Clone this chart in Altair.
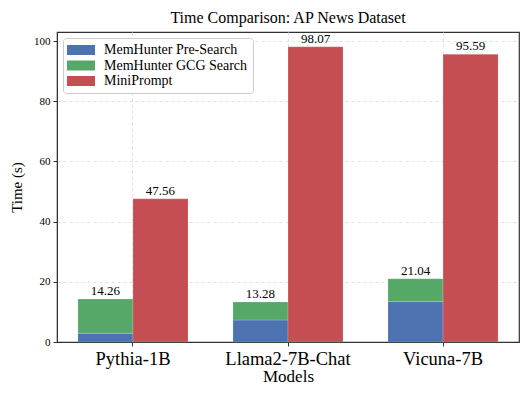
import altair as alt
import pandas as pd

models = ["Pythia-1B", "Llama2-7B-Chat", "Vicuna-7B"]
pre_search = [2.9, 7.3, 13.4]
memhunter_total = [14.26, 13.28, 21.04]
miniprompt = [47.56, 98.07, 95.59]
gcg_search = [round(t - p, 2) for t, p in zip(memhunter_total, pre_search)]

series = ["MemHunter Pre-Search", "MemHunter GCG Search", "MiniPrompt"]
colors = ["#4C72B0", "#55A868", "#C44E52"]

rows = []
for i, m in enumerate(models):
    rows.append({"model": m, "group": "A", "series": series[0], "value": pre_search[i], "ord": 0})
    rows.append({"model": m, "group": "A", "series": series[1], "value": gcg_search[i], "ord": 1})
    rows.append({"model": m, "group": "B", "series": series[2], "value": miniprompt[i], "ord": 2})
df = pd.DataFrame(rows)

tot = []
for i, m in enumerate(models):
    tot.append({"model": m, "group": "A", "total": memhunter_total[i], "label": f"{memhunter_total[i]:.2f}"})
    tot.append({"model": m, "group": "B", "total": miniprompt[i], "label": f"{miniprompt[i]:.2f}"})
tdf = pd.DataFrame(tot)

FONT = "Times New Roman, Liberation Serif, Times, serif"

xenc = alt.X("model:N", sort=models, title="Models",
             scale=alt.Scale(paddingInner=0.29, paddingOuter=0.135),
             axis=alt.Axis(labelAngle=0, labelFontSize=18.5, titleFontSize=17,
                           bandPosition=0.5, grid=True, gridDash=[3, 3],
                           gridColor="#e0e0e0", tickSize=4, labelPadding=3,
                           titlePadding=1))
xoff = alt.XOffset("group:N", scale=alt.Scale(paddingInner=0, paddingOuter=0))
yscale = alt.Scale(domain=[0, 103], nice=False)

bars = alt.Chart(df).mark_bar(stroke="white", strokeWidth=0.3, strokeOpacity=0.6).encode(
    x=xenc,
    xOffset=xoff,
    y=alt.Y("value:Q", stack="zero", scale=yscale, title="Time (s)",
            axis=alt.Axis(values=[0, 20, 40, 60, 80, 100], labelFontSize=11,
                          titleFontSize=15, grid=True, gridDash=[3, 3],
                          gridColor="#e0e0e0", tickSize=4, labelPadding=3,
                          titlePadding=9)),
    color=alt.Color("series:N", sort=series,
                    scale=alt.Scale(domain=series, range=colors),
                    legend=alt.Legend(title=None, orient="top-left", offset=6,
                                      fillColor="white", strokeColor="#cccccc",
                                      cornerRadius=3, padding=5,
                                      symbolType="M-2.8,-1L2.8,-1L2.8,1L-2.8,1Z",
                                      symbolSize=100, symbolOffset=6,
                                      symbolStrokeWidth=0, labelFontSize=14,
                                      labelOffset=16, rowPadding=1.5,
                                      labelLimit=300, labelColor="black")),
    order=alt.Order("ord:Q"),
)

labels = alt.Chart(tdf).mark_text(baseline="bottom", dy=-1, fontSize=13, font=FONT, color="black").encode(
    x=alt.X("model:N", sort=models),
    xOffset=xoff,
    y=alt.Y("total:Q", scale=yscale),
    text="label:N",
)

chart = alt.layer(bars, labels).properties(
    width=462, height=310,
    title=alt.TitleParams("Time Comparison: AP News Dataset", fontSize=16,
                          fontWeight="normal", offset=6, color="black"),
    autosize=alt.AutoSizeParams(type="none"),
    padding={"left": 49, "top": 24, "right": 4, "bottom": 45},
).configure(font=FONT).configure_axis(
    labelFont=FONT, titleFont=FONT, labelColor="black", titleColor="black",
    titleFontWeight="normal", domainColor="#333333", tickColor="#333333",
).configure_legend(labelFont=FONT).configure_title(font=FONT).configure_view(
    stroke="#333333", strokeWidth=1.2)

chart.save("out.html", embed_options={"renderer": "svg", "actions": False})
